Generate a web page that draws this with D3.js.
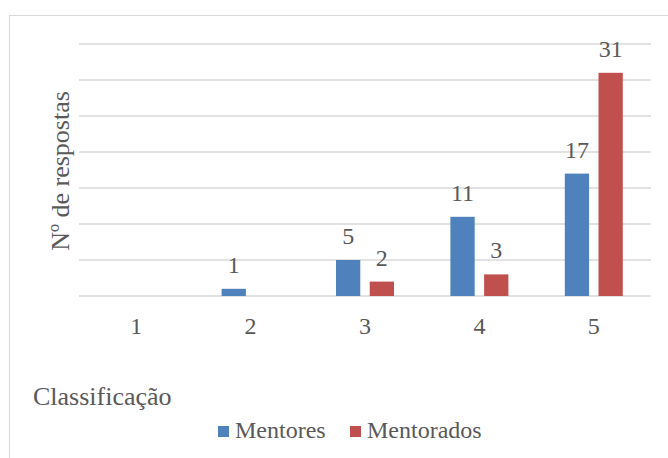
<!DOCTYPE html>
<html><head><meta charset="utf-8">
<script src="https://cdn.jsdelivr.net/npm/d3@7"></script>
<style>body{margin:0;background:#fff}svg{display:block}text{font-family:"Liberation Serif","Times New Roman",serif;fill:#595959}</style>
</head><body><svg id="c" width="668" height="458"></svg>
<script>
const categories = ["1","2","3","4","5"];
const seriesNames = ["Mentores","Mentorados"];
const mentores = [0,1,5,11,17];
const mentorados = [0,0,2,3,31];
const yTicks = [0,5,10,15,20,25,30,35];
const colors = ["#4F81BD","#C0504D"];

const svg = d3.select("#c");
svg.append("rect").attr("x",9.5).attr("y",15.5).attr("width",700).attr("height",500)
  .attr("fill","#fff").attr("stroke","#d9d9d9");

const pL=79, pR=651, pT=44, pB=296;
const x = d3.scaleBand().domain(categories).range([pL,pR]);
const y = d3.scaleLinear().domain([0,35]).range([pB,pT]);

svg.append("g").selectAll("line").data(yTicks).join("line")
  .attr("x1",pL).attr("x2",pR).attr("y1",d=>y(d)).attr("y2",d=>y(d))
  .attr("stroke","#d9d9d9").attr("stroke-width",1.5);

const data = categories.map((c,i)=>({c, vals:[mentores[i],mentorados[i]]}));
const inner = d3.scaleBand().domain([0,1]).range([-29,29]).paddingInner(0.28);
const g = svg.append("g");
data.forEach(d=>{
  const cx = x(d.c)+x.bandwidth()/2;
  d.vals.forEach((v,k)=>{
    if(v>0){
      g.append("rect").attr("x",cx+inner(k)).attr("width",inner.bandwidth())
        .attr("y",y(v)).attr("height",y(0)-y(v)).attr("fill",colors[k]);
      g.append("text").attr("x",cx+inner(k)+inner.bandwidth()/2).attr("y",y(v)-16)
        .attr("text-anchor","middle").attr("font-size",24).text(v);
    }
  });
});

const xa = svg.append("g").attr("transform",`translate(0,${pB})`)
  .call(d3.axisBottom(x).tickSize(0).tickPadding(0));
xa.select(".domain").remove();
xa.attr("font-family",null);
xa.selectAll("text").attr("font-size",24).attr("dy",null).attr("y",38)
  .style("font-family","Liberation Serif").attr("fill","#595959");

svg.append("text").attr("transform","translate(69,171) rotate(-90)")
  .attr("text-anchor","middle").attr("font-size",26).text("Nº de respostas");
svg.append("text").attr("x",33).attr("y",405).attr("font-size",26).text("Classificação");

const lg = svg.append("g");
const lx=[218,350];
seriesNames.forEach((n,k)=>{
  lg.append("rect").attr("x",lx[k]).attr("y",426).attr("width",11).attr("height",11).attr("fill",colors[k]);
  lg.append("text").attr("x",lx[k]+17).attr("y",438).attr("font-size",24).text(n);
});
</script></body></html>
